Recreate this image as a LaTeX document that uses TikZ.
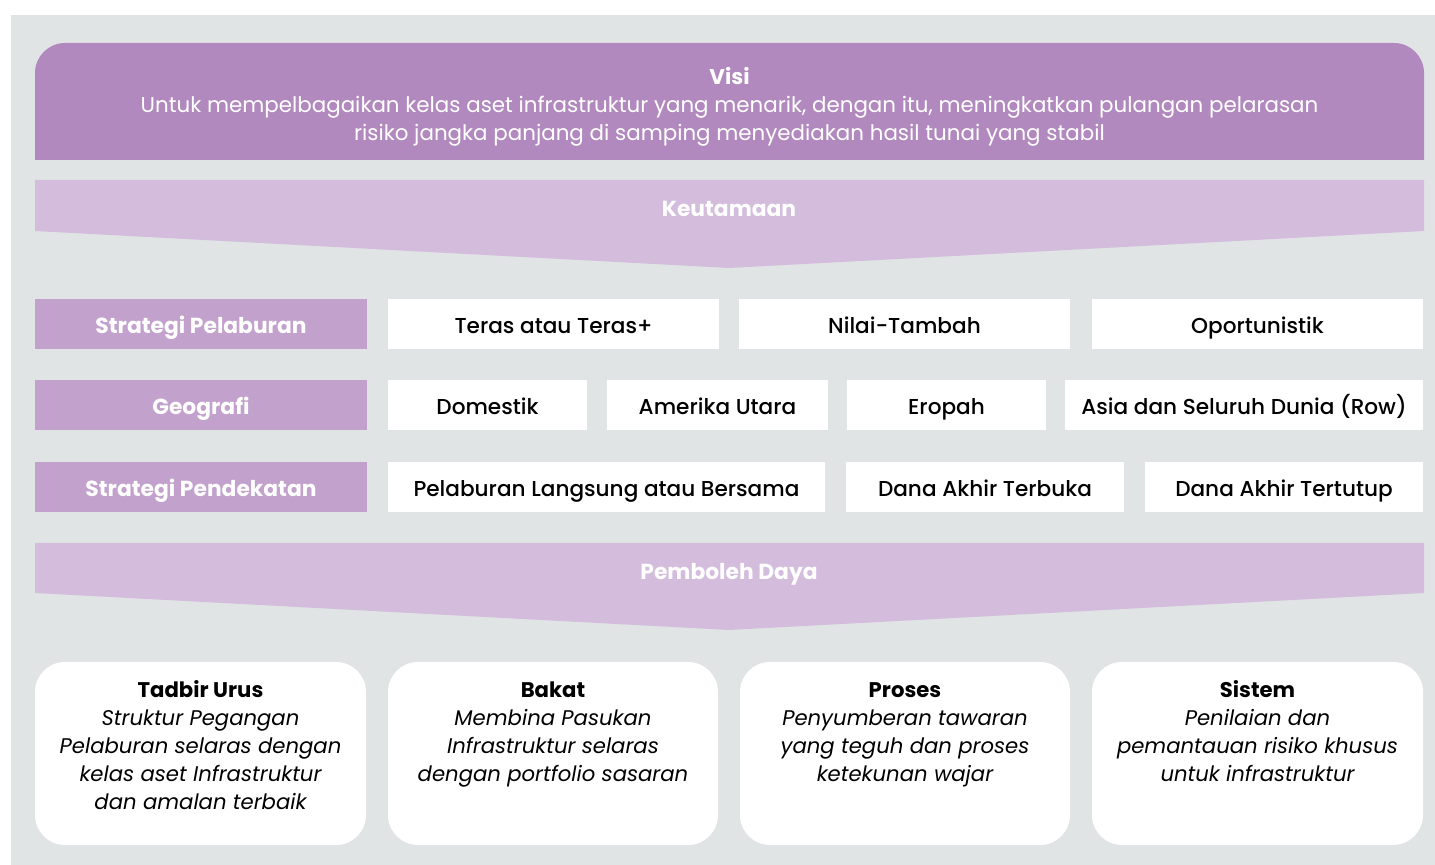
\documentclass[tikz,border=0pt]{standalone}
\usepackage{fontspec}
\setmainfont{Poppins}
\newfontfamily\mediumfont{Poppins Medium}
\definecolor{bggray}{HTML}{E0E4E5}
\definecolor{visipurple}{HTML}{B189BE}
\definecolor{bannerlilac}{HTML}{D3BCDC}
\definecolor{labelpurple}{HTML}{C2A1CC}
\begin{document}
\begin{tikzpicture}[x=0.5pt,y=-0.5pt,
		every node/.style={inner sep=0pt},
		headtext/.style={text=white, text height=10pt, text depth=0pt, font=\bfseries\fontsize{10.9}{12}\selectfont},
		rowlabel/.style={fill=labelpurple, minimum height=25pt, minimum width=166pt, headtext},
		cell/.style={fill=white, minimum height=25pt, text height=10pt, text depth=0pt, font=\mediumfont\fontsize{10.8}{12}\selectfont},
		card/.style={fill=white, rounded corners=15pt, minimum height=91.5pt},
		cardtext/.style={align=center, anchor=north, font=\fontsize{10.6}{14}\selectfont}]
		\useasboundingbox (0,0) rectangle (1435,865);
		\fill [bggray] (11,15) rectangle (1435,865);
		% visi
		\fill [visipurple] (35,160) [rounded corners=15pt] -- (35,43) -- (1424,43) [sharp corners] -- (1424,160) -- cycle;
		\node [align=center, text=white, font=\fontsize{10.7}{14}\selectfont] (visi) at (729.5,107)
			{\textbf{Visi}\\Untuk mempelbagaikan kelas aset infrastruktur yang menarik, dengan itu, meningkatkan pulangan pelarasan\\risiko jangka panjang di samping menyediakan hasil tunai yang stabil};
		% keutamaan
		\fill [bannerlilac] (35,180) -- (1424,180) -- (1424,231) -- (729,268) -- (35,231) -- cycle;
		\node [headtext] (keutamaan) at (729,207) {Keutamaan};
		% strategi pelaburan
		\node [rowlabel] (pelaburan) at (201,324) {Strategi Pelaburan};
		\node [cell, minimum width=165.5pt] (teras) at (553.5,324) {Teras atau Teras+};
		\node [cell, minimum width=165.5pt] (nilai) at (904.5,324) {Nilai-Tambah};
		\node [cell, minimum width=165.5pt] (oport) at (1257.5,324) {Oportunistik};
		% geografi
		\node [rowlabel] (geografi) at (201,405) {Geografi};
		\node [cell, minimum width=99.5pt] (domestik) at (487.5,405) {Domestik};
		\node [cell, minimum width=110.5pt] (amerika) at (717.5,405) {Amerika Utara};
		\node [cell, minimum width=99.5pt] (eropah) at (946.5,405) {Eropah};
		\node [cell, minimum width=179pt] (asia) at (1244,405) {Asia dan Seluruh Dunia (Row)};
		% strategi pendekatan
		\node [rowlabel] (pendekatan) at (201,487) {Strategi Pendekatan};
		\node [cell, minimum width=218.5pt] (langsung) at (606.5,487) {Pelaburan Langsung atau Bersama};
		\node [cell, minimum width=139pt] (terbuka) at (985,487) {Dana Akhir Terbuka};
		\node [cell, minimum width=139pt] (tertutup) at (1284,487) {Dana Akhir Tertutup};
		% pemboleh daya
		\fill [bannerlilac] (35,543) -- (1424,543) -- (1424,593) -- (729,630) -- (35,593) -- cycle;
		\node [headtext] (pemboleh) at (729,570) {Pemboleh Daya};
		% cards
		\node [card, minimum width=165.5pt] (tadbir) at (200.5,753.5) {};
		\node [card, minimum width=165pt] (bakat) at (553,753.5) {};
		\node [card, minimum width=165pt] (proses) at (905,753.5) {};
		\node [card, minimum width=165.5pt] (sistem) at (1257.5,753.5) {};
		\node [cardtext] at ([yshift=-8pt]tadbir.north) {\strut\textbf{Tadbir Urus}\\\itshape Struktur Pegangan\\\itshape Pelaburan selaras dengan\\\itshape kelas aset Infrastruktur\\\itshape dan amalan terbaik};
		\node [cardtext] at ([yshift=-8pt]bakat.north) {\strut\textbf{Bakat}\\\itshape Membina Pasukan\\\itshape Infrastruktur selaras\\\itshape dengan portfolio sasaran};
		\node [cardtext] at ([yshift=-8pt]proses.north) {\strut\textbf{Proses}\\\itshape Penyumberan tawaran\\\itshape yang teguh dan proses\\\itshape ketekunan wajar};
		\node [cardtext] at ([yshift=-8pt]sistem.north) {\strut\textbf{Sistem}\\\itshape Penilaian dan\\\itshape pemantauan risiko khusus\\\itshape untuk infrastruktur};
	\end{tikzpicture}
\end{document}
